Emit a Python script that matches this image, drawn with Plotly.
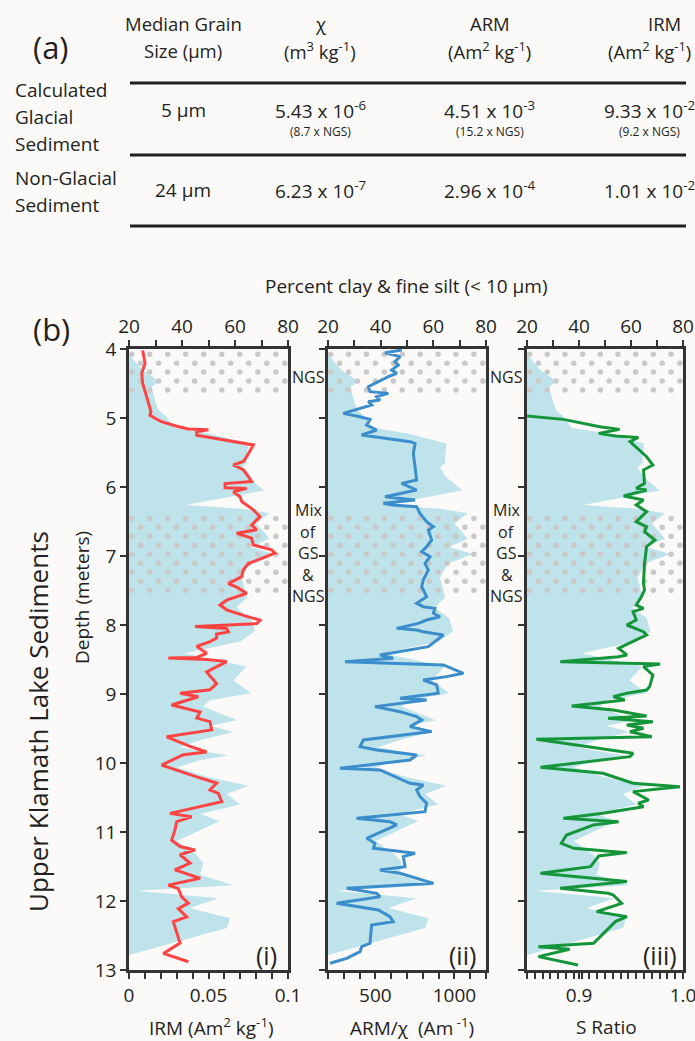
import plotly.graph_objects as go
import numpy as np

W, H = 695, 1041
def px(x): return x / W
def py(y): return 1 - y / H

# ---------------- data ----------------
clay_depth = [4.10, 4.30, 4.47, 4.55, 4.70, 4.88, 4.98, 5.08, 5.14, 5.22, 5.37, 5.55, 5.65, 5.72, 5.86,
              6.05, 6.10, 6.26, 6.32, 6.38, 6.53, 6.63, 6.75, 6.87, 6.97, 7.11, 7.31, 7.50, 7.60, 7.75,
              7.90, 8.09, 8.24, 8.41, 8.60, 8.80, 8.99, 9.09, 9.18, 9.38, 9.46, 9.55, 9.67, 9.77, 9.89,
              9.96, 10.06, 10.20, 10.33, 10.45, 10.60, 10.74, 10.84, 11.13, 11.33, 11.45, 11.62, 11.77,
              11.85, 11.96, 12.10, 12.25, 12.39, 12.78]
clay_pct = [20.5, 25, 31.5, 28.5, 29.5, 31, 34, 36, 37, 50, 65, 64.5, 64.5, 62.5, 65,
            71, 64, 41.5, 63.5, 73, 68, 70.5, 73, 66, 75, 65.5, 62.5, 64, 64.5, 60.5,
            66, 67.5, 62, 41, 64.4, 59.4, 66, 50.6, 48, 60.8, 50.6, 59.4, 46.8, 39.2, 57.5,
            46.8, 38, 49.3, 65, 56.9, 61.9, 46.8, 54.3, 38, 45.5, 48, 46.8, 59.4,
            22.9, 53.7, 43, 58.1, 56.9, 20.4]

irm_depth = [4.02, 4.21, 4.35, 4.50, 4.69, 4.84, 4.91, 4.96, 5.05, 5.12,
             5.15, 5.16, 5.17, 5.20, 5.25, 5.32, 5.39, 5.56, 5.63, 5.68,
             5.75, 5.85, 5.92, 5.95, 6.01, 6.02, 6.07, 6.14, 6.21, 6.33,
             6.43, 6.55, 6.62, 6.67, 6.74, 6.84, 6.91, 6.96, 7.01, 7.11,
             7.20, 7.30, 7.40, 7.45, 7.54, 7.64, 7.71, 7.78, 7.86, 7.93,
             7.98, 8.02, 8.05, 8.10, 8.13, 8.19, 8.24, 8.31, 8.41, 8.47,
             8.48, 8.50, 8.53, 8.68, 8.85, 8.94, 8.99, 9.04, 9.16, 9.26,
             9.35, 9.40, 9.52, 9.62, 9.76, 9.84, 9.88, 10.03, 10.20, 10.29,
             10.39, 10.44, 10.56, 10.63, 10.73, 10.78, 10.85, 10.97, 11.12, 11.21,
             11.26, 11.33, 11.45, 11.55, 11.67, 11.77, 11.82, 11.94, 12.03, 12.11,
             12.23, 12.30, 12.47, 12.61, 12.76, 12.88]
irm_val = [0.0086, 0.0101, 0.0080, 0.0086, 0.0111, 0.0128, 0.0138, 0.0132, 0.0200, 0.0300,
           0.0373, 0.0373, 0.0499, 0.0426, 0.0426, 0.0614, 0.0782, 0.0740, 0.0719, 0.0656,
           0.0719, 0.0751, 0.0771, 0.0604, 0.0604, 0.0740, 0.0656, 0.0698, 0.0709, 0.0782,
           0.0824, 0.0771, 0.0803, 0.0677, 0.0771, 0.0782, 0.0897, 0.0918, 0.0866, 0.0751,
           0.0719, 0.0709, 0.0625, 0.0677, 0.0740, 0.0614, 0.0572, 0.0614, 0.0719, 0.0824,
           0.0803, 0.0415, 0.0614, 0.0625, 0.0551, 0.0551, 0.0509, 0.0426, 0.0488, 0.0426,
           0.0247, 0.0488, 0.0614, 0.0488, 0.0551, 0.0509, 0.0321, 0.0436, 0.0268, 0.0447,
           0.0426, 0.0509, 0.0520, 0.0237, 0.0384, 0.0488, 0.0342, 0.0205, 0.0426, 0.0551,
           0.0509, 0.0562, 0.0583, 0.0447, 0.0258, 0.0394, 0.0300, 0.0289, 0.0268, 0.0321,
           0.0415, 0.0321, 0.0384, 0.0289, 0.0447, 0.0247, 0.0310, 0.0331, 0.0373, 0.0310,
           0.0363, 0.0279, 0.0300, 0.0321, 0.0216, 0.0373]

arm_depth = [4.015, 4.054, 4.111, 4.184, 4.232, 4.305, 4.353, 4.401, 4.546, 4.619,
             4.643, 4.691, 4.739, 4.764, 4.812, 4.884, 4.933, 4.971, 5.020, 5.102,
             5.174, 5.247, 5.343, 5.368, 5.512, 5.899, 5.947, 6.044, 6.140, 6.189,
             6.237, 6.261, 6.285, 6.382, 6.503, 6.575, 6.624, 6.768, 6.865, 6.938,
             7.010, 7.107, 7.203, 7.348, 7.445, 7.541, 7.590, 7.686, 7.735, 7.759,
             7.831, 7.880, 7.928, 7.976, 8.049, 8.073, 8.097, 8.145, 8.217, 8.314,
             8.434, 8.483, 8.531, 8.579, 8.700, 8.748, 8.797, 8.869, 8.990, 9.038,
             9.062, 9.087, 9.183, 9.256, 9.328, 9.376, 9.473, 9.545, 9.666, 9.763,
             9.811, 9.884, 9.956, 10.077, 10.101, 10.294, 10.319, 10.391, 10.488, 10.584,
             10.705, 10.802, 10.850, 10.898, 11.091, 11.164, 11.236, 11.309, 11.357, 11.502,
             11.550, 11.599, 11.744, 11.816, 11.889, 11.937, 12.034, 12.130, 12.227, 12.299,
             12.348, 12.613, 12.662, 12.734, 12.831, 12.903]
arm_val = [666, 561, 656, 624, 645, 603, 635, 582, 455, 466,
           582, 508, 529, 455, 476, 371, 297, 381, 466, 445,
           508, 413, 719, 751, 740, 761, 666, 761, 561, 751,
           550, 603, 761, 782, 824, 867, 835, 856, 824, 793,
           846, 814, 835, 803, 793, 814, 824, 761, 803, 877,
           867, 909, 824, 772, 635, 761, 803, 930, 888, 835,
           529, 613, 308, 930, 1057, 951, 803, 888, 898, 719,
           656, 824, 497, 656, 761, 793, 719, 856, 424, 403,
           508, 761, 719, 276, 529, 719, 803, 761, 782, 824,
           814, 381, 592, 635, 445, 497, 487, 751, 677, 687,
           529, 656, 867, 318, 508, 529, 255, 519, 592, 613,
           476, 466, 413, 403, 318, 213]

s_depth = [4.971, 5.020, 5.126, 5.165, 5.223, 5.261, 5.281, 5.343, 5.561, 5.681,
           5.754, 5.947, 6.020, 6.044, 6.131, 6.189, 6.261, 6.358, 6.503, 6.575,
           6.648, 6.768, 6.865, 7.107, 7.397, 7.493, 7.590, 7.710, 7.759, 7.807,
           7.928, 8.000, 8.097, 8.145, 8.217, 8.338, 8.434, 8.459, 8.531, 8.565,
           8.603, 8.724, 8.893, 8.942, 8.990, 9.038, 9.087, 9.111, 9.174, 9.231,
           9.318, 9.352, 9.401, 9.449, 9.497, 9.546, 9.618, 9.657, 9.860, 9.908,
           9.956, 10.062, 10.149, 10.294, 10.343, 10.415, 10.536, 10.584, 10.633, 10.729,
           10.802, 10.850, 10.898, 11.043, 11.164, 11.236, 11.299, 11.348, 11.502, 11.599,
           11.719, 11.816, 11.889, 11.913, 12.034, 12.154, 12.227, 12.299, 12.613, 12.662,
           12.700, 12.806, 12.927]
s_val = [0.850, 0.885, 0.920, 0.939, 0.919, 0.935, 0.957, 0.949, 0.965, 0.971,
         0.962, 0.963, 0.955, 0.965, 0.943, 0.962, 0.955, 0.965, 0.955, 0.965,
         0.963, 0.973, 0.965, 0.963, 0.962, 0.963, 0.960, 0.955, 0.962, 0.952,
         0.955, 0.946, 0.962, 0.965, 0.955, 0.938, 0.946, 0.938, 0.882, 0.978,
         0.962, 0.971, 0.968, 0.965, 0.946, 0.933, 0.944, 0.930, 0.893, 0.933,
         0.965, 0.928, 0.971, 0.946, 0.962, 0.949, 0.970, 0.859, 0.952, 0.949,
         0.923, 0.863, 0.923, 0.952, 0.997, 0.952, 0.967, 0.957, 0.962, 0.923,
         0.885, 0.938, 0.914, 0.888, 0.883, 0.895, 0.946, 0.919, 0.911, 0.863,
         0.946, 0.882, 0.928, 0.933, 0.941, 0.917, 0.946, 0.935, 0.914, 0.861,
         0.891, 0.861, 0.899]

# zones (depth, m)
ngs_zone = [4.0, 4.71]
mix_zone = [6.38, 7.57]

# axis ticks
depth_ticks = [4, 5, 6, 7, 8, 9, 10, 11, 12, 13]
clay_ticks = [20, 40, 60, 80]
clay_minor = [30, 50, 70]
irm_ticks = [0, 0.05, 0.1]
irm_labels = ["0", "0.05", "0.1"]
irm_minor = [0.01, 0.02, 0.03, 0.04, 0.06, 0.07, 0.08, 0.09]
arm_ticks = [500, 1000]
arm_labels = ["500", "1000"]
arm_minor = [200, 300, 400, 600, 700, 800, 900, 1100, 1200]
s_ticks = [0.9, 1.0]
s_labels = ["0.9", "1.0"]
s_minor = [0.85, 0.8575, 0.865, 0.8725, 0.88, 0.8875, 0.895, 0.9025, 0.91, 0.9175, 0.925,
           0.9325, 0.94, 0.9475, 0.955, 0.9625, 0.97, 0.9775, 0.985, 0.9925]

# table
col_head_1 = ["Median Grain", "χ", "ARM", "IRM"]
col_head_2 = ["Size (μm)", "(m<sup>3</sup> kg<sup>-1</sup>)",
              "(Am<sup>2</sup> kg<sup>-1</sup>)", "(Am<sup>2</sup> kg<sup>-1</sup>)"]
row_head_gs = ["Calculated", "Glacial", "Sediment"]
row_head_ngs = ["Non-Glacial", "Sediment"]
row_gs = ["5 μm", "5.43 x 10<sup>-6</sup>", "4.51 x 10<sup>-3</sup>", "9.33 x 10<sup>-2</sup>"]
row_gs_ratio = ["", "(8.7 x NGS)", "(15.2 x NGS)", "(9.2 x NGS)"]
row_ngs = ["24 μm", "6.23 x 10<sup>-7</sup>", "2.96 x 10<sup>-4</sup>", "1.01 x 10<sup>-2</sup>"]
mix_label = ["Mix", "of", "GS", "&amp;", "NGS"]

# ---------------- style ----------------
FONT = "Open Sans"
TXT = "#231f20"
AX = "#333333"
BG = "#fcfaf9"
FILL = "#bee3ea"
DOT = "#c9c9c9"

fig = go.Figure()

panels = [
    dict(l=129, r=288, vals=irm_val, dep=irm_depth, color="#ff4343", rng=[0, 0.1],
         tv=irm_ticks, tt=irm_labels, mv=irm_minor),
    dict(l=328, r=486, vals=arm_val, dep=arm_depth, color="#3b8dcb", rng=[200, 1200],
         tv=arm_ticks, tt=arm_labels, mv=arm_minor),
    dict(l=527, r=683, vals=s_val, dep=s_depth, color="#14953a", rng=[0.85, 1.0],
         tv=s_ticks, tt=s_labels, mv=s_minor),
]

TOP, BOT = 349, 970
tickstyle = dict(ticks="outside", ticklen=6, tickwidth=2, tickcolor=AX)
layout_axes = {}

# stipple grid (decorative dots) in clay-axis units
def stipple(zone):
    xs, ys = [], []
    step_x = 6.8
    step_y = 0.13
    rows = np.arange(zone[0] + 0.075, zone[1] - 0.02, step_y)
    for k, yv in enumerate(rows):
        off = 0 if k % 2 == 0 else step_x / 2
        for xv in np.arange(21.0 + off, 80.0, step_x):
            xs.append(xv)
            ys.append(yv)
    return xs, ys

for i, p in enumerate(panels):
    n = i + 1
    xb = "x" if n == 1 else f"x{n}"
    yb = "y" if n == 1 else f"y{n}"
    xo = f"x{n + 3}"
    xb_key = "xaxis" if n == 1 else f"xaxis{n}"
    yb_key = "yaxis" if n == 1 else f"yaxis{n}"
    xo_key = f"xaxis{n + 3}"

    fig.add_trace(go.Scatter(x=clay_pct, y=clay_depth, xaxis=xb, yaxis=yb, mode="lines",
                             fill="tozerox", fillcolor=FILL, line=dict(width=0, color=FILL),
                             hoverinfo="skip", showlegend=False))
    for zone in (ngs_zone, mix_zone):
        sx, sy = stipple(zone)
        fig.add_trace(go.Scatter(x=sx, y=sy, xaxis=xb, yaxis=yb, mode="markers",
                                 marker=dict(size=5.5, color=DOT), hoverinfo="skip",
                                 showlegend=False))
    fig.add_trace(go.Scatter(x=p["vals"], y=p["dep"], xaxis=xo, yaxis=yb, mode="lines",
                             line=dict(color=p["color"], width=3), showlegend=False))

    layout_axes[xb_key] = dict(domain=[px(p["l"]), px(p["r"])], range=[20, 80], side="top",
                               anchor=yb, showline=True, linewidth=2.5, linecolor=AX,
                               tickvals=clay_ticks, ticktext=[str(v) for v in clay_ticks],
                               tickfont=dict(size=19, color=TXT, family=FONT),
                               minor=dict(tickvals=clay_minor, **tickstyle), automargin=False,
                               ticklabeloverflow="allow",
                               showgrid=False, zeroline=False, **tickstyle)
    layout_axes[xo_key] = dict(range=p["rng"], side="bottom", overlaying=xb, anchor=yb,
                               showline=True, linewidth=2.5, linecolor=AX,
                               tickvals=p["tv"], ticktext=p["tt"], automargin=False,
                               ticklabeloverflow="allow",
                               tickfont=dict(size=19, color=TXT, family=FONT),
                               minor=dict(tickvals=p["mv"], **tickstyle),
                               showgrid=False, zeroline=False, **tickstyle)
    layout_axes[yb_key] = dict(domain=[py(BOT), py(TOP)], range=[13, 4], anchor=xb,
                               showline=True, mirror=True, linewidth=2.5, linecolor=AX,
                               tickvals=depth_ticks, showticklabels=(n == 1), automargin=False,
                               ticklabeloverflow="allow",
                               tickfont=dict(size=19, color=TXT, family=FONT),
                               showgrid=False, zeroline=False, **tickstyle)

ann = []
def A(x, y, text, size=20, angle=0, xanchor="center"):
    ann.append(dict(x=px(x), y=py(y), xref="paper", yref="paper", text=text, showarrow=False,
                    font=dict(size=size, color=TXT, family=FONT), textangle=angle,
                    xanchor=xanchor, yanchor="middle"))

# ---- table (a)
A(51, 47, "(a)", size=31)
col_x1 = [183, 320, 490, 664]
col_x2 = [183, 320, 490, 649]
for cx1, cx2, t1, t2 in zip(col_x1, col_x2, col_head_1, col_head_2):
    A(cx1, 23, t1, size=18.5)
    A(cx2, 50, t2, size=18.5)
for k, t in enumerate(row_head_gs):
    A(13, 90 + 27 * k, t, size=19, xanchor="left")
for k, t in enumerate(row_head_ngs):
    A(13, 178 + 27 * k, t, size=19, xanchor="left")
for cx, t in zip(col_x2, row_gs):
    A(cx, 110, t, size=19)
for cx, t in zip(col_x2, row_gs_ratio):
    if t:
        A(cx, 131, t, size=12)
for cx, t in zip(col_x2, row_ngs):
    A(cx, 190, t, size=19)

shapes = []
for ly in (83, 155, 226):
    shapes.append(dict(type="line", xref="paper", yref="paper", x0=px(130), x1=px(686),
                       y0=py(ly), y1=py(ly), line=dict(color=TXT, width=3)))

# ---- panel (b)
A(407, 286, "Percent clay &amp; fine silt (&lt; 10 μm)", size=19)
A(51, 329, "(b)", size=31)
A(38, 722, "Upper Klamath Lake Sediments", size=26, angle=-90)
A(82, 598, "Depth (meters)", size=19, angle=-90)
for gx in (308, 507):
    A(gx, 377, "NGS", size=16)
    for k, t in enumerate(mix_label):
        A(gx, 510 + 21.5 * k, t, size=16)
A(266, 955, "(i)", size=25)
A(462, 955, "(ii)", size=25)
A(660, 955, "(iii)", size=25)
A(211, 1027, "IRM (Am<sup>2</sup> kg<sup>-1</sup>)", size=19)
A(412, 1027, "ARM/χ  (Am<sup> -1</sup>)", size=19)
A(606, 1027, "S Ratio", size=19)

fig.update_layout(width=W, height=H, margin=dict(l=0, r=0, t=0, b=0),
                  paper_bgcolor=BG, plot_bgcolor=BG, showlegend=False,
                  annotations=ann, shapes=shapes,
                  font=dict(family=FONT, color=TXT), **layout_axes)

fig.write_html("out.html")
